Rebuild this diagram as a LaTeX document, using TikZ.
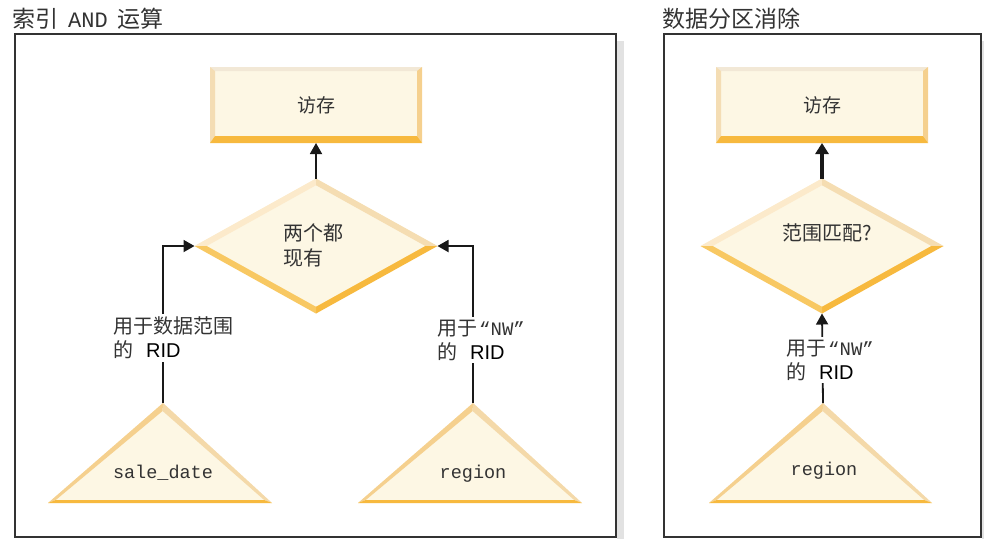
\documentclass[tikz,border=0pt]{standalone}
\usepackage{fontspec}
\setmainfont{Noto Sans CJK SC}
\newfontfamily\monofont{Liberation Mono}
\newfontfamily\ridfont{Liberation Sans}
\usepackage{xcolor}
\usetikzlibrary{positioning,arrows.meta,shapes.geometric,calc}
\definecolor{cream}{HTML}{FDF7E4}
\definecolor{bevtop}{HTML}{F2E8D6}
\definecolor{bevleft}{HTML}{F4DDB4}
\definecolor{bevright}{HTML}{F5D08E}
\definecolor{bevdeep}{HTML}{F7B93E}
\definecolor{bevpale}{HTML}{FCEACB}
\definecolor{bevbeige}{HTML}{F5DDB2}
\definecolor{bevmid}{HTML}{F8C862}
\definecolor{frameline}{HTML}{333333}
\definecolor{inktext}{HTML}{333333}
\definecolor{shadowgray}{HTML}{E2E2E2}

\tikzset{
  panel/.style={draw=frameline,line width=2pt},
  paneltitle/.style={anchor=west,text=inktext,inner sep=0pt,font=\fontsize{23}{26}\selectfont},
  accessbox/.style={rectangle,fill=cream,minimum width=212pt,minimum height=76pt,
    inner sep=0pt,outer sep=0pt,text=inktext,font=\fontsize{19}{22}\selectfont},
  testdiamond/.style={diamond,fill=cream,minimum width=243pt,minimum height=135pt,
    inner sep=0pt,outer sep=0pt},
  dmtext/.style={align=left,text=inktext,inner sep=0pt,font=\fontsize{20}{25}\selectfont},
  tritext/.style={anchor=base,text=inktext,inner sep=0pt,font=\monofont\fontsize{18.5}{20}\selectfont},
  ridlabel/.style={anchor=west,fill=white,align=left,inner sep=3pt,text=inktext,
    font=\fontsize{20}{24}\selectfont},
  link/.style={draw=black!90,line width=1.8pt,-{Triangle[length=11pt,width=12pt]}},
  boldlink/.style={draw=black!90,line width=3.6pt,-{Triangle[length=11pt,width=13pt]}}
}
\newcommand{\nwquote}{{\monofont\fontsize{19}{22}\selectfont “NW”}}

% bevelled edges of a box node
\newcommand{\bevelrect}[1]{%
  \fill[bevtop] (#1.north west) -- (#1.north east) -- ([shift={(-5,4)}]#1.north east)
    -- ([shift={(5,4)}]#1.north west) -- cycle;
  \fill[bevleft] (#1.north west) -- ([shift={(5,4)}]#1.north west)
    -- ([shift={(5,-7)}]#1.south west) -- (#1.south west) -- cycle;
  \fill[bevright] (#1.north east) -- ([shift={(-5,4)}]#1.north east)
    -- ([shift={(-5,-7)}]#1.south east) -- (#1.south east) -- cycle;
  \fill[bevdeep] (#1.south west) -- ([shift={(5,-7)}]#1.south west)
    -- ([shift={(-5,-7)}]#1.south east) -- (#1.south east) -- cycle;
}
% bevelled edges of a diamond node
\newcommand{\beveldiamond}[1]{%
  \coordinate (#1-in) at ($(#1.center)!0.9!(#1.north)$);
  \coordinate (#1-ie) at ($(#1.center)!0.9!(#1.east)$);
  \coordinate (#1-is) at ($(#1.center)!0.9!(#1.south)$);
  \coordinate (#1-iw) at ($(#1.center)!0.9!(#1.west)$);
  \fill[bevpale] (#1.west) -- (#1.north) -- (#1-in) -- (#1-iw) -- cycle;
  \fill[bevbeige] (#1.north) -- (#1.east) -- (#1-ie) -- (#1-in) -- cycle;
  \fill[bevdeep] (#1.east) -- (#1.south) -- (#1-is) -- (#1-ie) -- cycle;
  \fill[bevmid] (#1.south) -- (#1.west) -- (#1-iw) -- (#1-is) -- cycle;
}
% index triangle: name, apex, base left, base right
\newcommand{\beveltri}[4]{%
  \coordinate (#1-top) at (#2);
  \coordinate (#1-bl) at (#3);
  \coordinate (#1-br) at (#4);
  \coordinate (#1-c) at ($(#1-bl)!0.5!(#1-br)+(0,-43)$);
  \coordinate (#1-itop) at ($(#1-c)!0.86!(#1-top)$);
  \coordinate (#1-ibl) at ($(#1-c)!0.93!(#1-bl)$);
  \coordinate (#1-ibr) at ($(#1-c)!0.93!(#1-br)$);
  \fill[cream] (#1-top) -- (#1-br) -- (#1-bl) -- cycle;
  \fill[bevright] (#1-bl) -- (#1-top) -- (#1-itop) -- (#1-ibl) -- cycle;
  \fill[bevleft!70!bevright] (#1-top) -- (#1-br) -- (#1-ibr) -- (#1-itop) -- cycle;
  \fill[bevdeep] (#1-bl) -- (#1-br) -- (#1-ibr) -- (#1-ibl) -- cycle;
}

\begin{document}
\begin{tikzpicture}[x=1pt,y=-1pt]
  \useasboundingbox (0,0) rectangle (984,539);
  % Frames and titles
  \fill[shadowgray] (617,41) rectangle (624,539);
  \draw[panel] (15,34) rectangle (616,537);
  \fill[shadowgray] (982,41) rectangle (984,539);
  \draw[panel] (664,34) rectangle (981,537);
  \node[paneltitle] (titleL) at (12,19) {索引\hspace{10pt}{\monofont\fontsize{22}{24}\selectfont AND}\hspace{10pt}运算};
  \node[paneltitle] (titleR) at (662,19) {数据分区消除};

  % Left panel: index ANDing
  \node[accessbox] (accL) at (316,105) {访存};
  \bevelrect{accL}
  \node[testdiamond] (bothL) at (316,246) {};
  \beveldiamond{bothL}
  \node[dmtext] (bothtxt) at (313,245) {两个都\\现有};
  \beveltri{saleL}{163,403}{48,503}{272,503}
  \node[tritext] (saletxt) at (163,478) {sale\_date};
  \beveltri{regL}{473,403}{358,503}{582,503}
  \node[tritext] (regLtxt) at (473,478) {region};
  \draw[link] (saleL-top) |- (bothL.west);
  \draw[link] (regL-top) |- (bothL.east);
  \draw[link] (bothL.north) -- (accL.south);
  \node[ridlabel] (saleRid) at (110,338) {用于数据范围\\的\hspace{13pt}{\ridfont\color{black}RID}};
  \node[ridlabel] (regLRid) at (434,340) {用于\hspace{2pt}\nwquote\\的\hspace{13pt}{\ridfont\color{black}RID}};

  % Right panel: partition elimination
  \node[accessbox] (accR) at (822,105) {访存};
  \bevelrect{accR}
  \node[testdiamond] (rangeR) at (822,246) {};
  \beveldiamond{rangeR}
  \node[dmtext] (rangetxt) at (827,233) {范围匹配?};
  \beveltri{regR}{823,403}{709,503}{932,503}
  \node[tritext] (regRtxt) at (824,475) {region};
  \draw[link] (regR-top) -- (rangeR.south);
  \draw[boldlink] (rangeR.north) -- (accR.south);
  \node[ridlabel] (regRRid) at (783,360) {用于\hspace{2pt}\nwquote\\的\hspace{13pt}{\ridfont\color{black}RID}};
\end{tikzpicture}
\end{document}
